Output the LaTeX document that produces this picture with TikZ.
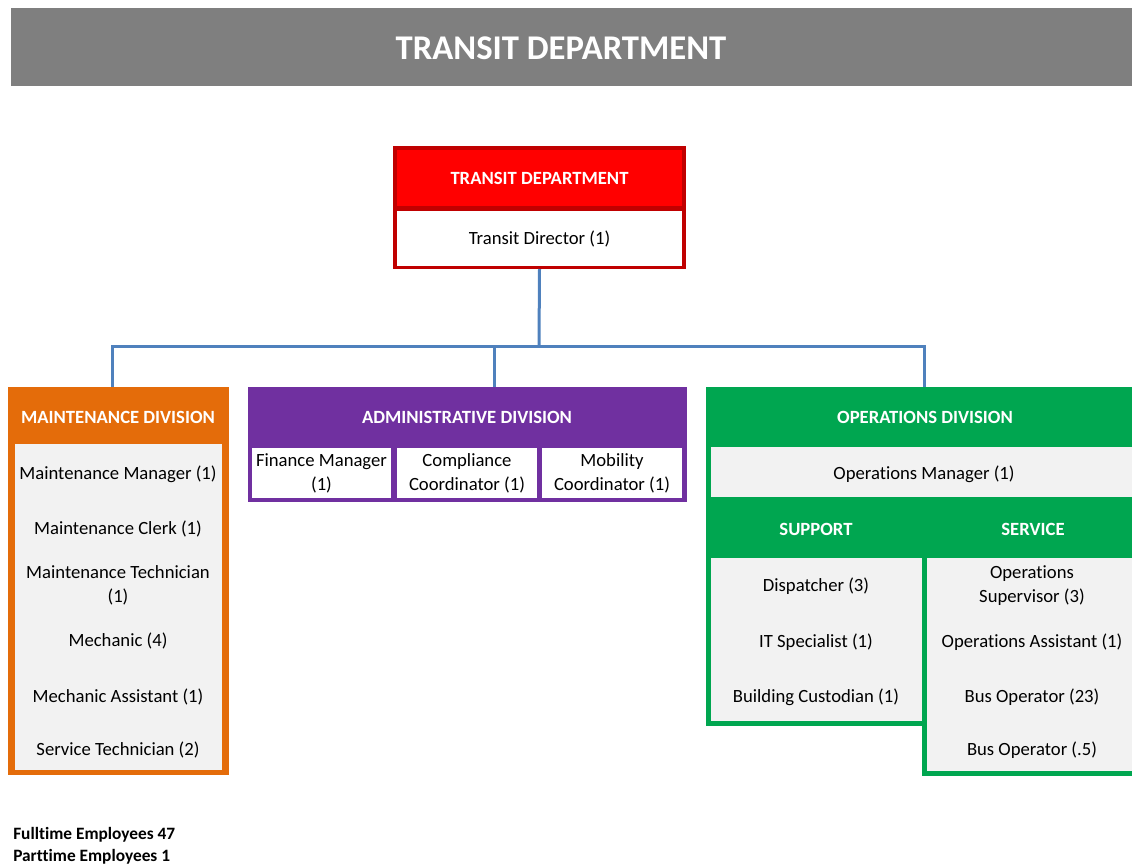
\documentclass[tikz,border=0pt]{standalone}
\usepackage{fontspec}
\setmainfont{Carlito}[Ligatures=NoCommon]
\usepackage{xcolor}
\usepackage{tikz}
\definecolor{BannerGray}{RGB}{127,127,127}
\definecolor{DeptRed}{RGB}{255,0,0}
\definecolor{DarkRed}{RGB}{192,0,0}
\definecolor{MaintOrange}{RGB}{228,108,10}
\definecolor{AdminPurple}{RGB}{112,48,160}
\definecolor{OpsGreen}{RGB}{0,166,80}
\definecolor{LinkBlue}{RGB}{79,129,189}
\definecolor{PaleGray}{RGB}{242,242,242}

\begin{document}
\begin{tikzpicture}[x=0.75pt, y=-0.75pt,
	boxsize/.style 2 args={minimum width=#1*0.75pt, minimum height=#2*0.75pt},
	panel/.style={inner sep=0pt, outer sep=0pt, anchor=north west},
	head/.style={text=white, inner sep=0pt, font=\fontsize{14}{17}\selectfont\bfseries},
	item/.style={align=center, inner sep=0pt, font=\fontsize{14}{18}\selectfont},
	link/.style={LinkBlue, line width=2.25pt}]
			\useasboundingbox (0,0) rectangle (1132,867);
			% 标题栏
			\node[panel, fill=BannerGray, boxsize={1121}{78}] (banner) at (11,8) {};
			\node[text=white, inner sep=0pt, font=\fontsize{26}{30}\selectfont\bfseries] (title) at (561,48) {TRANSIT DEPARTMENT};
			% 运输部
			\node[panel, fill=DarkRed, boxsize={293}{123}] (deptbox) at (393,146) {};
			\node[panel, fill=DeptRed, boxsize={285}{56}, head] (dept) at (397,150) {TRANSIT DEPARTMENT};
			\node[panel, fill=white, boxsize={285}{55}, item] (director) at (397,211) {Transit Director (1)};
			% 维修部
			\node[panel, fill=MaintOrange, boxsize={221}{388}] (maintbox) at (8,387) {};
			\node[head] (maint) at (118,417) {MAINTENANCE DIVISION};
			\node[panel, fill=PaleGray, boxsize={207}{326}] (maintlist) at (15,444) {};
			\foreach \y/\txt [count=\i] in {474/Maintenance Manager (1), 529/Maintenance Clerk (1),
				585/{Maintenance Technician\\(1)}, 641/Mechanic (4), 697/Mechanic Assistant (1),
				750/Service Technician (2)}
				\node[item] (m\i) at (118,\y) {\txt};
			% 行政部
			\node[panel, fill=AdminPurple, boxsize={439}{115}] (adminbox) at (248,387) {};
			\node[head] (admin) at (467,417) {ADMINISTRATIVE DIVISION};
			\node[panel, fill=white, boxsize={139}{50}, item] (finance) at (252,448) {Finance Manager\\(1)};
			\node[panel, fill=white, boxsize={140}{50}, item] (compliance) at (397,448) {Compliance\\Coordinator (1)};
			\node[panel, fill=white, boxsize={140}{50}, item] (mobility) at (542,448) {Mobility\\Coordinator (1)};
			% 运营部
			\node[panel, fill=OpsGreen, boxsize={426}{339}] (opsbox) at (706,387) {};
			\node[panel, fill=OpsGreen, boxsize={210}{218}] (servbox) at (922,558) {};
			\node[head] (ops) at (925,417) {OPERATIONS DIVISION};
			\node[panel, fill=PaleGray, boxsize={421}{50}] (opsmgr) at (711,447) {};
			\node[item] (opsmgrtxt) at (924,474) {Operations Manager (1)};
			\node[head] (support) at (816,529) {SUPPORT};
			\node[head] (service) at (1033,529) {SERVICE};
			\node[panel, fill=PaleGray, boxsize={211}{163}] (supportlist) at (711,558) {};
			\node[panel, fill=PaleGray, boxsize={205}{213}] (servicelist) at (927,558) {};
			\foreach \y/\txt [count=\i] in {586/Dispatcher (3), 642/IT Specialist (1), 697/Building Custodian (1)}
				\node[item] (s\i) at (816,\y) {\txt};
			\foreach \y/\txt [count=\i] in {586/{Operations\\Supervisor (3)}, 642/Operations Assistant (1),
				697/Bus Operator (23), 750/Bus Operator (.5)}
				\node[item] (v\i) at (1032,\y) {\txt};
			% 连线
			\coordinate (hub) at (539,346);
			\coordinate (mtop) at (112,387);
			\coordinate (atop) at (494,387);
			\coordinate (otop) at (924,387);
			\draw[link] (deptbox.south) -- (hub);
			\draw[link] (mtop) |- (hub) -| (otop);
			\draw[link] (atop) -- (atop |- hub);
			% 人数
			\node[anchor=west, inner sep=0pt, font=\fontsize{13}{16}\selectfont\bfseries] (fulltime) at (13,835) {Fulltime Employees 47};
			\node[anchor=west, inner sep=0pt, font=\fontsize{13}{16}\selectfont\bfseries] (parttime) at (13,857) {Parttime Employees 1};
		\end{tikzpicture}
\end{document}
